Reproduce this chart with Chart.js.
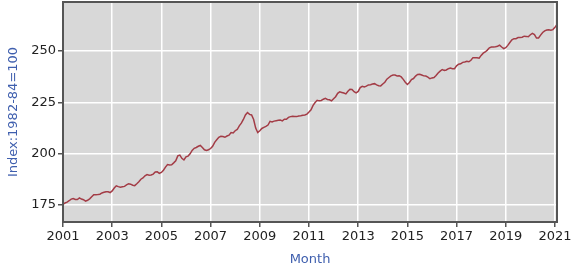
<!DOCTYPE html>
<html>
<head>
<meta charset="utf-8">
<script src="https://cdn.jsdelivr.net/npm/chart.js@4.4.1/dist/chart.umd.min.js"></script>
<style>
  html, body { margin: 0; padding: 0; background: #ffffff; }
  #wrap { width: 573px; height: 267px; position: relative; }
</style>
</head>
<body>
<div id="wrap"><canvas id="c" width="573" height="267"></canvas></div>
<script>
// Years shown on the x axis
const years = [2001, 2002, 2003, 2004, 2005, 2006, 2007, 2008, 2009, 2010,
               2011, 2012, 2013, 2014, 2015, 2016, 2017, 2018, 2019, 2020, 2021];
const monthNames = ['Jan','Feb','Mar','Apr','May','Jun','Jul','Aug','Sep','Oct','Nov','Dec'];
// Tick labels on the y axis
const yTicks = [175, 200, 225, 250];
// Monthly index values (1982-84=100), Jan 2001 - Feb 2021
const idx2001 = [175.1, 175.8, 176.2, 176.9, 177.7, 178.0, 177.5, 177.5, 178.3, 177.7, 177.4, 176.7];
const idx2002 = [177.1, 177.8, 178.8, 179.8, 179.8, 179.9, 180.1, 180.7, 181.0, 181.3, 181.3, 180.9];
const idx2003 = [181.7, 183.1, 184.2, 183.8, 183.5, 183.7, 183.9, 184.6, 185.2, 185.0, 184.5, 184.3];
const idx2004 = [185.2, 186.2, 187.4, 188.0, 189.1, 189.7, 189.4, 189.5, 189.9, 190.9, 191.0, 190.3];
const idx2005 = [190.7, 191.8, 193.3, 194.6, 194.4, 194.5, 195.4, 196.4, 198.8, 199.2, 197.6, 196.8];
const idx2006 = [198.3, 198.7, 199.8, 201.5, 202.5, 202.9, 203.5, 203.9, 202.9, 201.8, 201.5, 201.8];
const idx2007 = [202.4, 203.5, 205.4, 206.7, 207.9, 208.4, 208.3, 207.9, 208.5, 208.9, 210.2, 210.0];
const idx2008 = [211.1, 211.7, 213.5, 214.8, 216.6, 218.8, 220.0, 219.1, 218.8, 216.6, 212.4, 210.2];
const idx2009 = [211.1, 212.2, 212.7, 213.2, 213.9, 215.7, 215.4, 215.8, 216.0, 216.2, 216.3, 215.9];
const idx2010 = [216.7, 216.7, 217.6, 218.0, 218.2, 218.0, 218.0, 218.3, 218.4, 218.7, 218.8, 219.2];
const idx2011 = [220.2, 221.3, 223.5, 224.9, 226.0, 225.7, 225.9, 226.5, 226.9, 226.4, 226.2, 225.7];
const idx2012 = [226.7, 227.7, 229.4, 230.1, 229.8, 229.5, 229.1, 230.4, 231.4, 231.3, 230.2, 229.6];
const idx2013 = [230.3, 232.2, 232.8, 232.5, 232.9, 233.5, 233.6, 233.9, 234.1, 233.5, 233.1, 233.0];
const idx2014 = [233.9, 234.8, 236.3, 237.1, 237.9, 238.3, 238.3, 237.9, 238.0, 237.4, 236.2, 234.8];
const idx2015 = [233.7, 234.7, 236.1, 236.6, 237.8, 238.6, 238.7, 238.3, 237.9, 237.8, 237.3, 236.5];
const idx2016 = [236.9, 237.1, 238.1, 239.3, 240.2, 241.0, 240.6, 240.8, 241.4, 241.7, 241.4, 241.4];
const idx2017 = [242.8, 243.6, 243.8, 244.5, 244.7, 245.0, 244.8, 245.5, 246.8, 246.7, 246.7, 246.5];
const idx2018 = [247.9, 249.0, 249.6, 250.5, 251.6, 252.0, 252.0, 252.1, 252.4, 252.9, 252.0, 251.2];
const idx2019 = [251.7, 252.8, 254.2, 255.5, 256.1, 256.1, 256.6, 256.6, 256.8, 257.3, 257.2, 257.0];
const idx2020 = [258.0, 258.7, 258.1, 256.4, 256.4, 257.8, 259.1, 259.9, 260.3, 260.4, 260.2, 260.5];
const idx2021 = [261.6, 263.0];

const series = [idx2001, idx2002, idx2003, idx2004, idx2005, idx2006, idx2007, idx2008, idx2009, idx2010,
                idx2011, idx2012, idx2013, idx2014, idx2015, idx2016, idx2017, idx2018, idx2019, idx2020, idx2021];

const labels = [];
const values = [];
series.forEach((arr, yi) => {
  arr.forEach((v, mi) => {
    labels.push(monthNames[mi] + ' ' + years[yi]);
    values.push(v);
  });
});

const plotBg = {
  id: 'plotBg',
  beforeDraw(chart) {
    const { ctx, chartArea: a } = chart;
    ctx.save();
    ctx.fillStyle = '#d8d8d8';
    ctx.fillRect(a.left, a.top, a.right - a.left, a.bottom - a.top);
    ctx.restore();
  },
  afterDraw(chart) {
    const { ctx, chartArea: a } = chart;
    ctx.save();
    ctx.strokeStyle = '#555555';
    ctx.lineWidth = 2;
    ctx.strokeRect(a.left, a.top, a.right - a.left, a.bottom - a.top);
    ctx.restore();
  }
};

new Chart(document.getElementById('c'), {
  type: 'line',
  data: {
    labels: labels,
    datasets: [{
      data: values,
      borderColor: '#a33c46',
      borderWidth: 1.5,
      pointRadius: 0,
      tension: 0,
      fill: false
    }]
  },
  options: {
    responsive: false,
    animation: false,
    events: [],
    layout: { padding: { left: 0, right: 16, top: 2, bottom: 0 } },
    plugins: { legend: { display: false }, tooltip: { enabled: false } },
    scales: {
      x: {
        type: 'category',
        offset: false,
        border: { display: false },
        afterFit(scale) { scale.height = 45; scale.paddingLeft = 0; scale.paddingRight = 0; },
        grid: { color: '#ffffff', lineWidth: 1.5, tickColor: '#555555', tickLength: 5, drawOnChartArea: true },
        ticks: {
          autoSkip: false,
          maxRotation: 0,
          minRotation: 0,
          padding: 2,
          color: '#222222',
          font: { family: 'DejaVu Sans', size: 13 },
          callback: function(val, i) {
            const lab = labels[i];
            const [m, y] = lab.split(' ');
            const yr = parseInt(y, 10);
            return (m === 'Jan' && (yr - years[0]) % 2 === 0) ? String(yr) : null;
          }
        },
        title: { display: true, text: 'Month', color: '#3f5fae', font: { family: 'DejaVu Sans', size: 13 }, padding: { top: 4, bottom: 0 } }
      },
      y: {
        min: 166.5,
        max: 274,
        border: { display: false },
        afterFit(scale) { scale.width = 63; scale.paddingTop = 0; scale.paddingBottom = 0; },
        afterBuildTicks(scale) { scale.ticks = yTicks.map(v => ({ value: v })); },
        grid: { color: '#ffffff', lineWidth: 1.5, tickColor: '#555555', tickLength: 5 },
        ticks: {
          padding: 2,
          color: '#222222',
          font: { family: 'DejaVu Sans', size: 13 }
        },
        title: { display: true, text: 'Index:1982-84=100', color: '#3f5fae', font: { family: 'DejaVu Sans', size: 13 }, padding: { top: 6, bottom: 4 } }
      }
    }
  },
  plugins: [plotBg]
});
</script>
</body>
</html>
